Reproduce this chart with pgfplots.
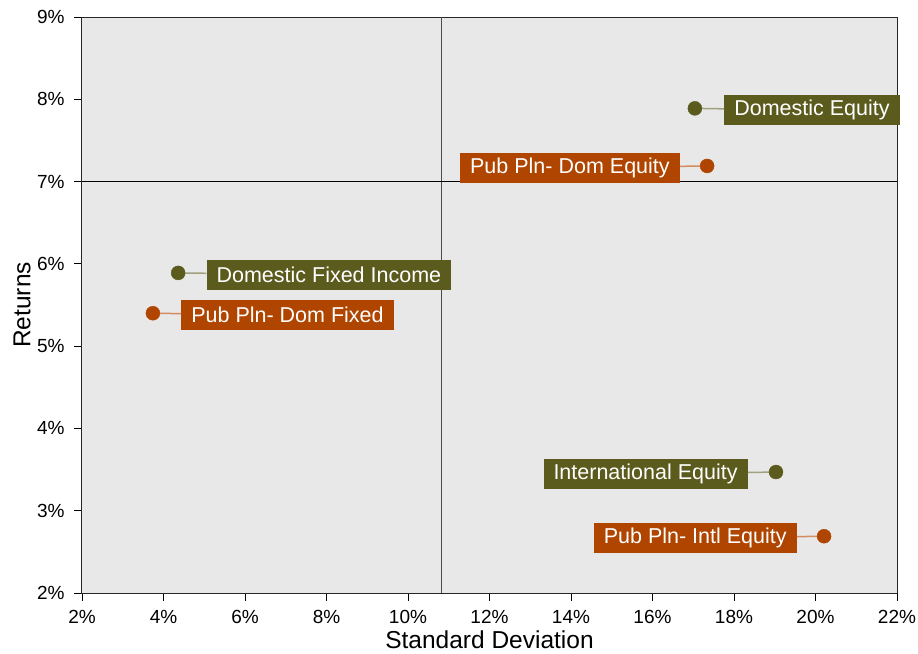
\documentclass[border=0pt]{standalone}
\usepackage{pgfplots}
\pgfplotsset{compat=1.18}
\usepackage{fontspec}
\setmainfont{Liberation Sans}
\definecolor{olivebox}{RGB}{91,91,30}
\definecolor{orangebox}{RGB}{176,69,0}
\definecolor{oliveline}{RGB}{160,160,125}
\definecolor{orangeline}{RGB}{210,140,95}
\definecolor{plotbg}{RGB}{232,232,232}

\tikzset{
  lbl/.style={text=white, inner xsep=10bp, inner ysep=0pt, minimum height=30bp, yshift=-2bp,
    font=\fontsize{21.5bp}{24bp}\selectfont},
  pt/.style={inner sep=0pt, minimum size=0pt},
}

\begin{document}
\begin{tikzpicture}
\begin{axis}[
    scale only axis,
    width=815bp, height=576bp,
    xmin=2, xmax=22, ymin=2, ymax=9,
    xtick={2,4,...,22}, ytick={2,3,...,9},
    xticklabels={2\%,4\%,6\%,8\%,10\%,12\%,14\%,16\%,18\%,20\%,22\%},
    yticklabels={2\%,3\%,4\%,5\%,6\%,7\%,8\%,9\%},
    tick align=outside, tick pos=left,
    major tick length=8bp,
    tick style={black, line width=0.8bp},
    axis line style={line width=1bp, black!85},
    axis background/.style={fill=plotbg},
    ticklabel style={font=\fontsize{19bp}{22bp}\selectfont},
    xticklabel style={yshift=-6bp},
    yticklabel style={xshift=-6bp},
    xlabel={Standard Deviation}, ylabel={Returns},
    every axis x label/.style={at={(axis description cs:0.5,-0.0816)}, anchor=center,
      font=\fontsize{24.5bp}{28bp}\selectfont},
    every axis y label/.style={at={(axis description cs:-0.0736,0.5)}, anchor=center, rotate=90,
      font=\fontsize{24.5bp}{28bp}\selectfont},
    clip=false,
]
% crosshair
\addplot[black!70, line width=1bp] coordinates {(10.81,2) (10.81,9)};
\addplot[black, line width=0.8bp] coordinates {(2,7) (22,7)};

\addplot[only marks, mark=*, mark size=7bp, olivebox] coordinates {(17.04,7.89)}
  node[pt, pin={[lbl, fill=olivebox, pin distance=29bp, pin edge={oliveline, line width=1.5bp, shorten <=7bp}]0:Domestic Equity}] {};
\addplot[only marks, mark=*, mark size=7bp, orangebox] coordinates {(17.34,7.19)}
  node[pt, pin={[lbl, fill=orangebox, pin distance=27bp, pin edge={orangeline, line width=1.5bp, shorten <=7bp}]180:Pub Pln- Dom Equity}] {};
\addplot[only marks, mark=*, mark size=7bp, olivebox] coordinates {(4.36,5.89)}
  node[pt, pin={[lbl, fill=olivebox, pin distance=28bp, pin edge={oliveline, line width=1.5bp, shorten <=7bp}]0:Domestic Fixed Income}] {};
\addplot[only marks, mark=*, mark size=7bp, orangebox] coordinates {(3.74,5.40)}
  node[pt, pin={[lbl, fill=orangebox, pin distance=28bp, pin edge={orangeline, line width=1.5bp, shorten <=7bp}]0:Pub Pln- Dom Fixed}] {};
\addplot[only marks, mark=*, mark size=7bp, olivebox] coordinates {(19.03,3.47)}
  node[pt, pin={[lbl, fill=olivebox, pin distance=28bp, pin edge={oliveline, line width=1.5bp, shorten <=7bp}]180:International Equity}] {};
\addplot[only marks, mark=*, mark size=7bp, orangebox] coordinates {(20.21,2.69)}
  node[pt, pin={[lbl, fill=orangebox, pin distance=27bp, pin edge={orangeline, line width=1.5bp, shorten <=7bp}]180:Pub Pln- Intl Equity}] {};
\end{axis}
\pgfresetboundingbox
\path (-82bp,-61bp) rectangle (836bp,593bp);
\end{tikzpicture}
\end{document}
